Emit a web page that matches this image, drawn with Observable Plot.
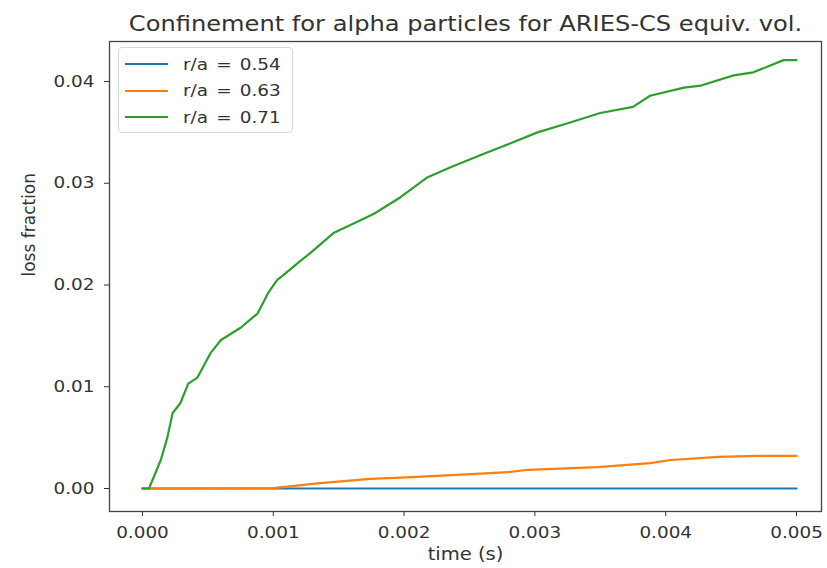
<!DOCTYPE html>
<html>
<head>
<meta charset="utf-8">
<script src="https://cdn.jsdelivr.net/npm/d3@7"></script>
<script src="https://cdn.jsdelivr.net/npm/@observablehq/plot@0.6"></script>
<style>
  body { margin: 0; background: #fff; }
  #chart { position: relative; width: 827px; height: 568px; }
  .legend {
    position: absolute; left: 118px; top: 47px; width: 175px; height: 86px;
    border: 1px solid #d8d8d8; border-radius: 4px; background: rgba(255,255,255,0.85);
    box-sizing: border-box; font-family: "DejaVu Sans"; font-size: 16px; color: #333;
  }
  .row { position: absolute; left: 6px; height: 20px; display: flex; align-items: center; }
  .swatch { width: 43px; height: 2px; margin-right: 15px; }
  .name { display: inline-block; transform: scaleX(1.15); transform-origin: left center; white-space: pre; word-spacing: 2px; }
</style>
</head>
<body>
<div id="chart"></div>
<script>
// Loss fraction of alpha particles vs. time for three launch surfaces
const title = "Confinement for alpha particles for ARIES-CS equiv. vol.";
const xLabel = "time (s)";
const yLabel = "loss fraction";
const xTicks = [0, 0.001, 0.002, 0.003, 0.004, 0.005];
const yTicks = [0, 0.01, 0.02, 0.03, 0.04];

const seriesNames = ["r/a = 0.54", "r/a = 0.63", "r/a = 0.71"];
const seriesColors = ["#1f77b4", "#ff7f0e", "#2ca02c"];

// r/a = 0.54
const time054 = [0, 0.001, 0.002, 0.003, 0.004, 0.005];
const loss054 = [0, 0, 0, 0, 0, 0];

// r/a = 0.63
const time063 = [0, 0.001, 0.00134, 0.00174, 0.00202, 0.00255, 0.00279, 0.00295, 0.00348, 0.00388, 0.00404, 0.0044, 0.0047, 0.005];
const loss063 = [0, 0.00003, 0.0005, 0.00095, 0.0011, 0.00144, 0.0016, 0.00184, 0.0021, 0.0025, 0.0028, 0.0031, 0.0032, 0.0032];

// r/a = 0.71
const time071 = [0, 0.00005, 0.00014, 0.00019, 0.00023, 0.00029, 0.00035, 0.00042, 0.00052, 0.0006, 0.00075, 0.00088, 0.00096, 0.00103, 0.00107, 0.00121, 0.00128, 0.00146, 0.00159, 0.00177, 0.00197, 0.00218, 0.00236, 0.00261, 0.00281, 0.00302, 0.00325, 0.0035, 0.00375, 0.00388, 0.00414, 0.00427, 0.00452, 0.00467, 0.0049, 0.005];
const loss071 = [0, 0, 0.0028, 0.0050, 0.0074, 0.0084, 0.0103, 0.0109, 0.0133, 0.0146, 0.0158, 0.0172, 0.0192, 0.0205, 0.0209, 0.0224, 0.0231, 0.0251, 0.0259, 0.0270, 0.0286, 0.0306, 0.0316, 0.0329, 0.0339, 0.0350, 0.0359, 0.0369, 0.0375, 0.0386, 0.0394, 0.0396, 0.0406, 0.0409, 0.0421, 0.0421];

const toRows = (ts, vs) => ts.map((t, i) => ({t, v: vs[i]}));
const series = [toRows(time054, loss054), toRows(time063, loss063), toRows(time071, loss071)];

const chart = Plot.plot({
  width: 827,
  height: 568,
  marginLeft: 109,
  marginRight: 6,
  marginTop: 41,
  marginBottom: 57,
  style: {fontFamily: "DejaVu Sans", fontSize: "16px", color: "#333", background: "white"},
  x: {domain: [-0.000252, 0.005191]},
  y: {domain: [-0.00226, 0.04393]},
  marks: [
    Plot.axisX({ticks: xTicks, tickFormat: d3.format(".3f"), tickSize: 5, tickPadding: 10, label: null}),
    Plot.axisY({ticks: yTicks, tickFormat: d3.format(".2f"), tickSize: 5, tickPadding: 10, label: null}),
    ...series.map((rows, i) => Plot.line(rows, {x: "t", y: "v", stroke: seriesColors[i], strokeWidth: 2.2})),
    Plot.frame({stroke: "#444", strokeWidth: 1.3}),
    Plot.text([title], {text: d => d, frameAnchor: "top", dy: -25, fontSize: 21, fill: "#333"}),
    Plot.text([xLabel], {text: d => d, frameAnchor: "bottom", dy: 48, fontSize: 17, fill: "#333"}),
    Plot.text([yLabel], {text: d => d, frameAnchor: "left", dx: -80, rotate: -90, fontSize: 17, fill: "#333"})
  ]
});

// Slightly wide lettering: stretch horizontal text about its anchor point
chart.querySelectorAll("text").forEach(t => {
  const tr = t.getAttribute("transform") || "";
  if (tr.includes("rotate")) return;
  const x = parseFloat(t.getAttribute("x")) || 0;
  t.setAttribute("transform", `${tr} translate(${x},0) scale(1.15,1) translate(${-x},0)`);
});

const root = document.getElementById("chart");
root.appendChild(chart);

// Legend box in the upper-left corner of the axes
const legend = document.createElement("div");
legend.className = "legend";
seriesNames.forEach((name, i) => {
  const row = document.createElement("div");
  row.className = "row";
  row.style.top = (6 + i * 26.5) + "px";
  const sw = document.createElement("span");
  sw.className = "swatch";
  sw.style.background = seriesColors[i];
  const label = document.createElement("span");
  label.className = "name";
  label.textContent = name;
  row.appendChild(sw);
  row.appendChild(label);
  legend.appendChild(row);
});
root.appendChild(legend);
</script>
</body>
</html>
